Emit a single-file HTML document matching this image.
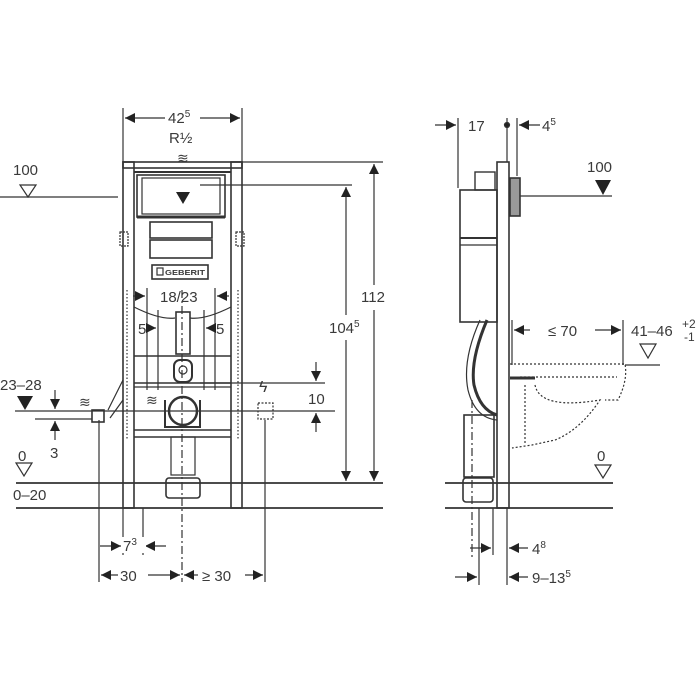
<!DOCTYPE html>
<html><head><meta charset="utf-8"><style>
html,body{margin:0;padding:0;background:#fff}
svg{display:block}
.t text{font-family:"Liberation Sans",sans-serif;fill:#3a3a3a}
</style></head><body>
<svg width="700" height="700" viewBox="0 0 700 700" xmlns="http://www.w3.org/2000/svg">
<defs>
<marker id="a" viewBox="0 0 10 10" refX="10" refY="5" markerWidth="10" markerHeight="10" orient="auto-start-reverse" markerUnits="userSpaceOnUse"><path d="M0,0 L10,5 L0,10 z" fill="#222"/></marker>
</defs>
<g stroke="#333" stroke-width="1.2" fill="none">
<line x1="16" y1="483" x2="383" y2="483" stroke-width="1.8"/>
<line x1="16" y1="508" x2="383" y2="508" stroke-width="1.8"/>
<line x1="123" y1="108" x2="123" y2="162"/>
<line x1="242" y1="108" x2="242" y2="162"/>
<line x1="125" y1="118" x2="165" y2="118" marker-start="url(#a)"/>
<line x1="200" y1="118" x2="240" y2="118" marker-end="url(#a)"/>
<line x1="242" y1="162" x2="383" y2="162"/>
<line x1="200" y1="185" x2="352" y2="185"/>
<line x1="374" y1="164" x2="374" y2="285" marker-start="url(#a)"/>
<line x1="374" y1="310" x2="374" y2="481" marker-end="url(#a)"/>
<line x1="346" y1="187" x2="346" y2="315" marker-start="url(#a)"/>
<line x1="346" y1="340" x2="346" y2="481" marker-end="url(#a)"/>
<line x1="0" y1="197" x2="118" y2="197"/>
<path d="M20,185 L36,185 L28,197 z"/>
<rect x="123" y="162" width="119" height="6" stroke-width="1.6"/>
<rect x="123" y="162" width="11" height="346" stroke-width="1.6"/>
<rect x="231" y="162" width="11" height="346" stroke-width="1.6"/>
<line x1="134" y1="172" x2="231" y2="172" stroke-width="2"/>
<rect x="137" y="175" width="88" height="42" stroke-width="1.6"/>
<rect x="142" y="178" width="78" height="36"/>
<line x1="137" y1="217" x2="225" y2="217" stroke-width="3"/>
<rect x="150" y="222" width="62" height="16" stroke-width="1.6"/>
<rect x="150" y="240" width="62" height="18" stroke-width="1.6"/>
<rect x="152" y="265" width="56" height="14" stroke-width="1.6"/>
<rect x="157" y="268" width="6" height="7"/>
<rect x="120" y="232" width="8" height="14" stroke-dasharray="2,1"/>
<rect x="236" y="232" width="8" height="14" stroke-dasharray="2,1"/>
<line x1="127" y1="290" x2="127" y2="440" stroke-dasharray="1.5,2"/>
<line x1="238" y1="290" x2="238" y2="440" stroke-dasharray="1.5,2"/>
<line x1="134" y1="356" x2="231" y2="356" stroke-width="1.6"/>
<line x1="134" y1="383" x2="231" y2="383" stroke-width="1.6"/>
<line x1="134" y1="387" x2="231" y2="387"/>
<line x1="134" y1="430" x2="231" y2="430" stroke-width="1.6"/>
<line x1="134" y1="437" x2="231" y2="437" stroke-width="1.6"/>
<path d="M134,307 Q160,320 175,318 M190,318 Q205,320 231,307"/>
<rect x="176" y="312" width="14" height="42" stroke-width="1.6"/>
<rect x="174" y="360" width="18" height="22" rx="6" stroke-width="2"/>
<circle cx="183" cy="370" r="4"/>
<circle cx="183" cy="411" r="14" stroke-width="2.5"/>
<path d="M165,400 L165,427 L200,427 L200,400" stroke-width="2"/>
<rect x="171" y="437" width="24" height="38"/>
<rect x="166" y="478" width="34" height="20" rx="3" stroke-width="1.6"/>
<path d="M108,410 L123,380 M110,418 L123,400"/>
<rect x="92" y="410" width="12" height="12" stroke-width="1.6"/>
<line x1="15" y1="411" x2="335" y2="411"/>
<line x1="35" y1="419" x2="92" y2="419"/>
<rect x="258" y="403" width="15" height="16" stroke-dasharray="2,1.5"/>
<line x1="200" y1="383" x2="325" y2="383"/>
<line x1="316" y1="362" x2="316" y2="381" marker-end="url(#a)"/>
<line x1="316" y1="432" x2="316" y2="413" marker-end="url(#a)"/>
<line x1="147" y1="288" x2="147" y2="390"/>
<line x1="215" y1="288" x2="215" y2="390"/>
<line x1="158" y1="310" x2="158" y2="390"/>
<line x1="204" y1="310" x2="204" y2="390"/>
<line x1="133" y1="296" x2="145" y2="296" marker-end="url(#a)"/>
<line x1="229" y1="296" x2="217" y2="296" marker-end="url(#a)"/>
<line x1="150" y1="328" x2="156" y2="328" marker-end="url(#a)"/>
<line x1="214" y1="328" x2="206" y2="328" marker-end="url(#a)"/>
<line x1="55" y1="390" x2="55" y2="409" marker-end="url(#a)"/>
<line x1="55" y1="440" x2="55" y2="421" marker-end="url(#a)"/>
<path d="M16,463 L32,463 L24,476 z"/>
<line x1="99" y1="420" x2="99" y2="582"/>
<line x1="123" y1="508" x2="123" y2="555"/>
<line x1="143" y1="508" x2="143" y2="555"/>
<line x1="182" y1="290" x2="182" y2="582" stroke-dasharray="8,3,2,3"/>
<line x1="265" y1="420" x2="265" y2="582"/>
<line x1="100" y1="546" x2="121" y2="546" marker-end="url(#a)"/>
<line x1="166" y1="546" x2="145" y2="546" marker-end="url(#a)"/>
<line x1="101" y1="575" x2="118" y2="575" marker-start="url(#a)"/>
<line x1="148" y1="575" x2="180" y2="575" marker-end="url(#a)"/>
<line x1="184" y1="575" x2="198" y2="575" marker-start="url(#a)"/>
<line x1="245" y1="575" x2="263" y2="575" marker-end="url(#a)"/>
<line x1="445" y1="483" x2="613" y2="483" stroke-width="1.8"/>
<line x1="445" y1="508" x2="613" y2="508" stroke-width="1.8"/>
<rect x="497" y="162" width="12" height="346" stroke-width="1.6"/>
<rect x="460" y="190" width="37" height="132" stroke-width="1.6"/>
<rect x="475" y="172" width="20" height="18" stroke-width="1.4"/>
<line x1="460" y1="238" x2="497" y2="238" stroke-width="2"/>
<line x1="460" y1="245" x2="497" y2="245"/>
<rect x="510" y="178" width="10" height="38" stroke-width="1.6" fill="#999"/>
<path d="M487,320 Q470,360 474,385 Q480,410 497,415" stroke-width="3"/>
<path d="M480,320 Q462,360 468,390 Q475,418 497,420"/>
<rect x="464" y="415" width="30" height="62" stroke-width="1.6"/>
<rect x="463" y="478" width="30" height="24" rx="3" stroke-width="1.6"/>
<line x1="472" y1="400" x2="472" y2="560" stroke-dasharray="8,3,2,3"/>
<line x1="510" y1="378" x2="535" y2="378" stroke-width="3"/>
<g stroke-dasharray="2,2">
<path d="M510,364 L625,364 Q628,380 618,400 L605,400 M520,377 L617,377"/>
<path d="M535,385 Q540,410 600,400 Q580,430 555,440 L532,445 L512,448"/>
<path d="M525,385 L525,445"/>
</g>
<line x1="458" y1="118" x2="458" y2="188"/>
<line x1="507" y1="118" x2="507" y2="162"/>
<line x1="517" y1="118" x2="517" y2="176"/>
<circle cx="507" cy="125" r="2.5" fill="#222"/>
<line x1="435" y1="125" x2="456" y2="125" marker-end="url(#a)"/>
<line x1="540" y1="125" x2="519" y2="125" marker-end="url(#a)"/>
<line x1="520" y1="196" x2="612" y2="196"/>
<line x1="512" y1="320" x2="512" y2="365"/>
<line x1="623" y1="320" x2="623" y2="365"/>
<line x1="514" y1="330" x2="530" y2="330" marker-start="url(#a)"/>
<line x1="595" y1="330" x2="621" y2="330" marker-end="url(#a)"/>
<line x1="625" y1="365" x2="660" y2="365"/>
<path d="M640,344 L656,344 L648,358 z"/>
<path d="M595,465 L611,465 L603,478 z"/>
<line x1="479" y1="508" x2="479" y2="585"/>
<line x1="493" y1="508" x2="493" y2="555"/>
<line x1="507" y1="508" x2="507" y2="585"/>
<line x1="470" y1="548" x2="491" y2="548" marker-end="url(#a)"/>
<line x1="528" y1="548" x2="509" y2="548" marker-end="url(#a)"/>
<line x1="455" y1="577" x2="477" y2="577" marker-end="url(#a)"/>
<line x1="528" y1="577" x2="509" y2="577" marker-end="url(#a)"/>
</g>
<path d="M17,396 L33,396 L25,410 z" fill="#222"/>
<path d="M595,180 L611,180 L603,195 z" fill="#222"/>
<path d="M176,192 L190,192 L183,204 z" fill="#222"/>
<g class="t" style="font-size:15px">
<rect x="165" y="110" width="35" height="16" fill="#fff"/>
<text x="168" y="123">42<tspan style="font-size:10px" dy="-6">5</tspan></text>
<text x="169" y="143">R½</text>
<text x="177" y="163" style="font-size:14px">≋</text>
<rect x="360" y="288" width="28" height="18" fill="#fff"/>
<text x="361" y="302">112</text>
<rect x="328" y="318" width="38" height="20" fill="#fff"/>
<text x="329" y="333">104<tspan style="font-size:10px" dy="-6">5</tspan></text>
<text x="13" y="175">100</text>
<text x="165" y="275" style="font-size:7px;font-weight:bold" textLength="40" lengthAdjust="spacingAndGlyphs">GEBERIT</text>
<text x="160" y="302">18/23</text>
<text x="138" y="334">5</text>
<text x="216" y="334">5</text>
<text x="259" y="392" style="font-size:16px">ϟ</text>
<text x="308" y="404">10</text>
<text x="0" y="390">23–28</text>
<text x="50" y="458">3</text>
<text x="18" y="461">0</text>
<text x="13" y="500">0–20</text>
<text x="79" y="407" style="font-size:14px">≋</text>
<text x="146" y="405" style="font-size:14px">≋</text>
<rect x="122" y="537" width="24" height="16" fill="#fff"/>
<text x="123" y="551">7<tspan style="font-size:10px" dy="-6">3</tspan></text>
<text x="120" y="581">30</text>
<text x="202" y="581">≥ 30</text>
<text x="468" y="131">17</text>
<text x="542" y="131">4<tspan style="font-size:10px" dy="-6">5</tspan></text>
<text x="587" y="172">100</text>
<text x="548" y="336">≤ 70</text>
<text x="631" y="336">41–46</text>
<text x="682" y="328" style="font-size:12px">+2</text>
<text x="684" y="341" style="font-size:12px">-1</text>
<text x="597" y="461">0</text>
<text x="532" y="554">4<tspan style="font-size:10px" dy="-6">8</tspan></text>
<text x="532" y="583">9–13<tspan style="font-size:10px" dy="-6">5</tspan></text>
</g>
</svg>
</body></html>
